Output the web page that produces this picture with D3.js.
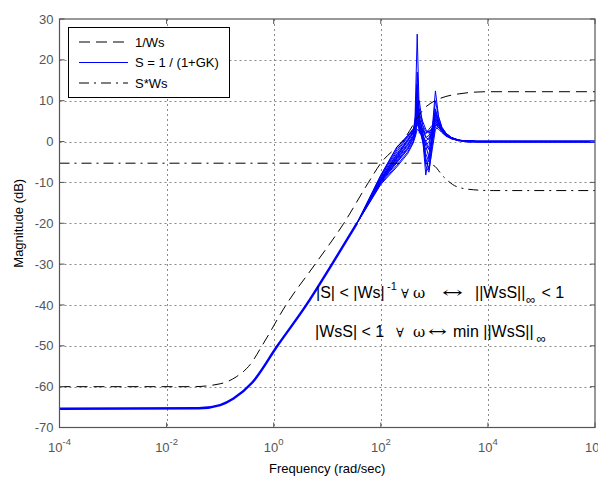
<!DOCTYPE html>
<html>
<head>
<meta charset="utf-8">
<script src="https://cdn.jsdelivr.net/npm/d3@7"></script>
<style>
	body { margin: 0; background: #fff; }
	svg { display: block; }
</style>
</head>
<body>
<script>
// Values. Frequencies are stored as log10(rad/sec).

// 1/Ws (dashed)
const invWsExp = [-4, -1.5, -1.0, -0.7, -0.44, -0.2, 0.23, 0.775, 1.31, 1.77, 2.0, 2.4, 2.86, 3.42, 3.98, 6]
const invWsDb  = [-60, -60, -59.3, -57.6, -54.6, -49.6, -40, -30, -20, -10, -5.3, 0, 8.7, 11.6, 12.2, 12.2]

// S*Ws (dash-dot)
const sWsExp = [-4, 2.8, 2.98, 3.17, 3.42, 3.73, 4.1, 6]
const sWsDb  = [-5.3, -5.3, -5.8, -8.6, -11.05, -11.8, -12.0, -12.0]

// S = 1/(1+GK), common low frequency part of all traces
const sLowExp = [-4, -1.4, -1.0, -0.75, -0.4, 0.07, 0.61, 1.09, 1.555]
const sLowDb  = [-65.4, -65.3, -64.5, -62.9, -59, -50, -40, -30, -20]

// S traces around the resonances
const sHighExp = [2, 2.3, 2.5, 2.6, 2.64, 2.68, 2.72, 2.78, 2.84, 2.9, 2.96, 3.02, 3.08, 3.14, 3.22, 3.32, 3.45, 3.6, 3.8, 6]
const sTraces = [
	[-9.5, -4.0, -0.5, 1.5, 6, 26.3, 6, 2.5, 2, 2.5, 3, 4, 3.5, 2.5, 1.5, 0.8, 0.3, 0.1, 0, 0],
	[-9.3, -3.5, 0, 2, 4.5, 17, 4, 1.5, 0, 1, 2.5, 5, 4, 2.5, 1.5, 0.8, 0.3, 0.1, 0, 0],
	[-9.0, -3, 0.5, 2.5, 4, 14, 3, 1, -1, 0, 2, 6, 4.5, 3, 1.8, 0.9, 0.3, 0.1, 0, 0],
	[-8.7, -2.5, 1, 3, 4, 10, 3.5, 0, -2, -1, 3, 12.4, 6, 3.5, 2, 1, 0.4, 0.1, 0, 0],
	[-8.5, -2, 1.2, 2.5, 3.5, 8, 4, 2, -3, -5, 1, 7, 5, 3.2, 1.8, 0.9, 0.3, 0.1, 0, 0],
	[-9.9, -4.8, -1.5, 0.5, 2, 6, 5, 1, -8.2, -3, 2, 6.5, 4.5, 3, 1.7, 0.9, 0.3, 0.1, 0, 0],
	[-8.3, -1.5, 1.5, 3, 3, 5, 3, 0.5, -5, -6.5, 0, 5.5, 4.5, 3, 1.7, 0.8, 0.3, 0.1, 0, 0],
	[-8.2, -1.3, 1.3, 2.8, 3.2, 4, 3.5, 2.5, -1, -4, 0.5, 4.5, 4, 2.8, 1.6, 0.8, 0.3, 0.1, 0, 0],
	[-10.1, -5.2, -2, 0, 2, 12, 5.5, 3, 2, 3, 4, 4.5, 3.5, 2.5, 1.4, 0.7, 0.3, 0.1, 0, 0],
	[-10.3, -5.8, -2.6, -0.3, 1.5, 4, 7, 4, 2.5, 2.5, 3, 3.5, 3, 2.2, 1.3, 0.7, 0.2, 0.1, 0, 0],
	[-9.7, -4.5, -1, 1, 2.5, 9, 4, 1.5, -4, -7, -2, 3, 3.5, 2.5, 1.4, 0.7, 0.2, 0.1, 0, 0],
	[-10.5, -6.2, -3, -0.5, 1, 3, 2.5, 1.5, 0, -2, 1, 8, 5, 3, 1.6, 0.8, 0.3, 0.1, 0, 0],
	[-9.1, -3.2, 0.3, 2.2, 3.5, 7, 2, 3, 1, 0.5, 2.5, 10, 6, 3.5, 2, 1, 0.4, 0.1, 0, 0],
	[-9.6, -4.2, -0.8, 1.2, 2.5, 5, 6, 2, -6, -7.5, -1, 4, 4, 2.8, 1.6, 0.8, 0.3, 0.1, 0, 0],
	[-9.8, -5, -1.8, 0.8, 3, 6, 10, 4, 1, 1.5, 3, 5.5, 4, 2.7, 1.5, 0.8, 0.3, 0.1, 0, 0],
	[-9.4, -3.8, 0.2, 2, 5, 8.5, 8, 5, 3, 2, 3.5, 7.5, 5, 3, 1.7, 0.9, 0.3, 0.1, 0, 0]
]
// where all traces lie on top of each other at 0 dB
const sTailExp = [3.6, 6]
const sTailDb  = [0, 0]

const yTicks = [30, 20, 10, 0, -10, -20, -30, -40, -50, -60, -70]
const xTickExp = [-4, -2, 0, 2, 4, 6]

const legendLabels = ['1/Ws', 'S = 1 / (1+GK)', 'S*Ws']

const width = 598, height = 477
const pLeft = 59.5, pRight = 595, pTop = 19, pBottom = 427.5

const svg = d3.select('body').append('svg')
	.attr('width', width).attr('height', height)
	.style('font-family', 'Liberation Sans, Arial, sans-serif')

const x = d3.scaleLog().domain([1e-4, 1e6]).range([pLeft, pRight])
const y = d3.scaleLinear().domain([-70, 30]).range([pBottom, pTop])

const pts = (exps, dbs) => exps.map((e, i) => [Math.pow(10, e), dbs[i]])

svg.append('defs').append('clipPath').attr('id', 'plotClip')
	.append('rect')
	.attr('x', pLeft).attr('y', pTop)
	.attr('width', pRight - pLeft).attr('height', pBottom - pTop)

// Grid
const grid = svg.append('g')
	.style('stroke', '#8a8a8a').style('stroke-width', 1)
	.style('stroke-dasharray', '2,3')
grid.selectAll('.hgrid').data(yTicks.slice(1, -1)).join('line')
	.attr('x1', pLeft).attr('x2', pRight)
	.attr('y1', d => Math.round(y(d)) + 0.5).attr('y2', d => Math.round(y(d)) + 0.5)
grid.selectAll('.vgrid').data(xTickExp.slice(1, -1)).join('line')
	.attr('y1', pTop).attr('y2', pBottom)
	.attr('x1', d => Math.round(x(Math.pow(10, d))) + 0.5).attr('x2', d => Math.round(x(Math.pow(10, d))) + 0.5)

// Curves
const plot = svg.append('g').attr('clip-path', 'url(#plotClip)')
const lineSmooth = d3.line().x(d => x(d[0])).y(d => y(d[1])).curve(d3.curveMonotoneX)
const lineStraight = d3.line().x(d => x(d[0])).y(d => y(d[1]))

sTraces.forEach(tr => {
	plot.append('path')
		.attr('d', lineStraight(pts(sLowExp, sLowDb).slice(-1).concat(pts(sHighExp, tr))))
		.style('fill', 'none').style('stroke', '#0000ff').style('stroke-width', 1)
})
plot.append('path')
	.attr('d', lineSmooth(pts(sLowExp, sLowDb)))
	.style('fill', 'none').style('stroke', '#0000ff').style('stroke-width', 2.4)
plot.append('path')
	.attr('d', lineStraight(pts(sTailExp, sTailDb)))
	.style('fill', 'none').style('stroke', '#0000ff').style('stroke-width', 2.4)

plot.append('path')
	.attr('d', lineSmooth(pts(invWsExp, invWsDb)))
	.style('fill', 'none').style('stroke', '#000').style('stroke-width', 1)
	.style('stroke-dasharray', '11,6')
plot.append('path')
	.attr('d', lineSmooth(pts(sWsExp, sWsDb)))
	.style('fill', 'none').style('stroke', '#000').style('stroke-width', 1)
	.style('stroke-dasharray', '10,5,2,5')

// Axes box
svg.append('rect')
	.attr('x', pLeft).attr('y', pTop)
	.attr('width', pRight - pLeft).attr('height', pBottom - pTop)
	.style('fill', 'none').style('stroke', '#555').style('stroke-width', 1.2)

// Ticks
const ticks = svg.append('g').style('stroke', '#555').style('stroke-width', 1)
yTicks.forEach(t => {
	ticks.append('line').attr('x1', pLeft).attr('x2', pLeft + 5).attr('y1', y(t)).attr('y2', y(t))
	ticks.append('line').attr('x1', pRight).attr('x2', pRight - 5).attr('y1', y(t)).attr('y2', y(t))
})
xTickExp.forEach(t => {
	let px = x(Math.pow(10, t))
	ticks.append('line').attr('x1', px).attr('x2', px).attr('y1', pBottom).attr('y2', pBottom - 5)
	ticks.append('line').attr('x1', px).attr('x2', px).attr('y1', pTop).attr('y2', pTop + 5)
})

// Tick labels
svg.selectAll('.ylab').data(yTicks).join('text')
	.attr('x', pLeft - 6).attr('y', d => y(d)).attr('dy', '0.35em')
	.attr('text-anchor', 'end')
	.style('font-size', '13px').style('fill', '#555')
	.text(d => d)

const xl = svg.selectAll('.xlab').data(xTickExp).join('text')
	.attr('x', d => x(Math.pow(10, d))).attr('y', 452)
	.attr('text-anchor', 'middle')
	.style('font-size', '13px').style('fill', '#555')
xl.append('tspan').text('10')
xl.append('tspan').attr('dy', -7).style('font-size', '9.5px').text(d => d)

// Axis titles
svg.append('text')
	.attr('x', (pLeft + pRight) / 2).attr('y', 473)
	.attr('text-anchor', 'middle').style('font-size', '13px')
	.text('Frequency  (rad/sec)')
svg.append('text')
	.attr('transform', `translate(23, ${(pTop + pBottom) / 2}) rotate(-90)`)
	.attr('text-anchor', 'middle').style('font-size', '13px')
	.text('Magnitude (dB)')

// Legend
const legend = svg.append('g')
legend.append('rect')
	.attr('x', 68.5).attr('y', 27.5).attr('width', 161).attr('height', 70)
	.style('fill', '#fff').style('stroke', '#000').style('stroke-width', 1)
const legendStyles = [
	{stroke: '#000', dash: '11,6'},
	{stroke: '#0000ff', dash: null},
	{stroke: '#000', dash: '10,5,2,5'}
]
legendLabels.forEach((lab, i) => {
	let ly = 42 + i * 20.5
	legend.append('line')
		.attr('x1', 79).attr('x2', 128).attr('y1', ly).attr('y2', ly)
		.style('stroke', legendStyles[i].stroke).style('stroke-width', 1)
		.style('stroke-dasharray', legendStyles[i].dash)
	legend.append('text')
		.attr('x', 135).attr('y', ly).attr('dy', '0.36em')
		.style('font-size', '13px')
		.text(lab)
})

// Annotations, each piece placed where it sits in the picture
const sym = 'DejaVu Serif, Liberation Serif, serif'
function piece(t, px, txt, opts = {}) {
	let s = t.append('tspan').attr('x', px).text(txt)
	if (opts.dy) s.attr('dy', opts.dy)
	if (opts.size) s.style('font-size', opts.size)
	if (opts.font) s.style('font-family', opts.font)
	if (opts.len) s.attr('textLength', opts.len).attr('lengthAdjust', 'spacingAndGlyphs')
	return s
}
const a1 = svg.append('text').attr('y', 298).style('font-size', '16px')
piece(a1, 316, '|S| < |Ws|')
piece(a1, 387, '-1', {dy: -8, size: '11px'})
piece(a1, 401, '\u2200', {dy: 8, size: '13px', font: sym})
piece(a1, 413, '\u03c9', {size: '15px', font: sym})
piece(a1, 442, '\u2194', {size: '16px', font: sym, len: 21})
piece(a1, 475, '||WsS||')
piece(a1, 526, '\u221e', {dy: 6, size: '13px'})
piece(a1, 541.5, '< 1', {dy: -6})

const a2 = svg.append('text').attr('y', 336.5).style('font-size', '16px')
piece(a2, 315, '|WsS| < 1')
piece(a2, 396, '\u2200', {size: '13px', font: sym})
piece(a2, 413, '\u03c9', {size: '15px', font: sym})
piece(a2, 428, '\u2194', {size: '16px', font: sym, len: 19})
piece(a2, 453, 'min ||WsS||')
piece(a2, 536.5, '\u221e', {dy: 6, size: '13px'})
</script>
</body>
</html>
